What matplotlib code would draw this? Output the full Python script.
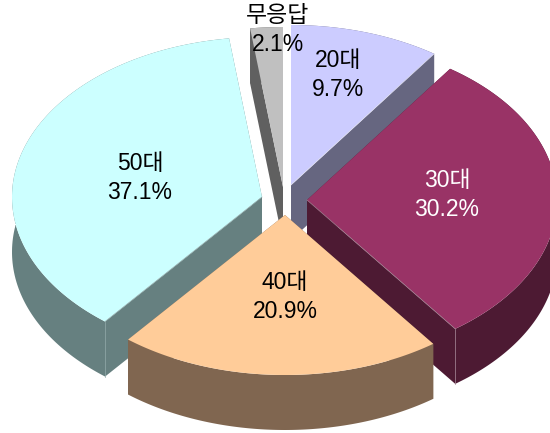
"""Exploded 3D-style pie of respondents by age group."""
import matplotlib as mpl
mpl.use("Agg")
import matplotlib.pyplot as plt
import numpy as np

plt.rcParams['font.family'] = ['Liberation Sans', 'Noto Sans CJK KR', 'DejaVu Sans']

# data
ages = ['20대', '30대', '40대', '50대', '무응답']
shares = [9.7, 30.2, 20.9, 37.1, 2.1]

# look
top_colors = ['#CCCCFF', '#993366', '#FFCC99', '#CCFFFF', '#C0C0C0']
side_colors = ['#666680', '#4D1A33', '#806650', '#668080', '#606060']
seam_colors = ['#E0E0F0', '#A08090', '#A08870', '#90A8A8', '#808080']
text_colors = ['black', 'white', 'black', 'black', 'black']
apex_x = [291, 307, 285, 262, 283]
apex_y = [185, 200, 215, 197, 187]
label_x = [338, 447, 285, 140, 278]
label_y = [75, 195, 297, 178, 30]
draw_order = [4, 0, 3, 1, 2]
# which rim end carries the visible seam: -1 last point, 1 first point, None no seam
seam_end = [-1, -1, None, 1, None]
RX, RY, DEPTH = 250, 160, 55

fig = plt.figure(figsize=(5.5, 4.33), dpi=100)
ax = fig.add_axes([0, 0, 1, 1])
ax.set_xlim(0, 550)
ax.set_ylim(433, 0)
ax.axis('off')

ends = np.cumsum(shares) / np.sum(shares) * 2 * np.pi
starts = np.r_[0, ends[:-1]]

for z, i in enumerate(draw_order):
    # angles run clockwise from twelve o'clock
    t = np.linspace(starts[i], ends[i], 120)
    rim_x = apex_x[i] + RX * np.sin(t)
    rim_y = apex_y[i] - RY * np.cos(t)
    xs = np.r_[apex_x[i], rim_x]
    ys = np.r_[apex_y[i], rim_y]
    # walls: the two cut faces and the rim as whole polygons, top face hides the rest
    for e in (1, -1):
        ax.fill([xs[0], xs[e], xs[e], xs[0]], [ys[0], ys[e], ys[e] + DEPTH, ys[0] + DEPTH],
                color=side_colors[i], lw=0, zorder=z * 3 + 1)
    ax.fill(np.r_[rim_x, rim_x[::-1]], np.r_[rim_y, rim_y[::-1] + DEPTH],
            color=side_colors[i], lw=0, zorder=z * 3 + 1)
    ax.fill(xs, ys, color=top_colors[i], lw=0, zorder=z * 3 + 2)
    # faint light seams where the top meets a cut face
    e = seam_end[i]
    if e is not None:
        ax.plot([xs[0], xs[e]], [ys[0], ys[e]], color=seam_colors[i], lw=0.5, zorder=z * 3 + 3)
        if ages[i] != '20대':
            ax.plot([xs[e], xs[e]], [ys[e], ys[e] + DEPTH], color=seam_colors[i], lw=0.5,
                    zorder=z * 3 + 3)

for i in range(len(ages)):
    ax.text(label_x[i], label_y[i], f'{ages[i]}\n{shares[i]}%', color=text_colors[i],
            fontsize=16.5, ha='center', va='center', linespacing=1.33, zorder=30)

fig.savefig('out.png', dpi=100, facecolor='white')
plt.close(fig)
